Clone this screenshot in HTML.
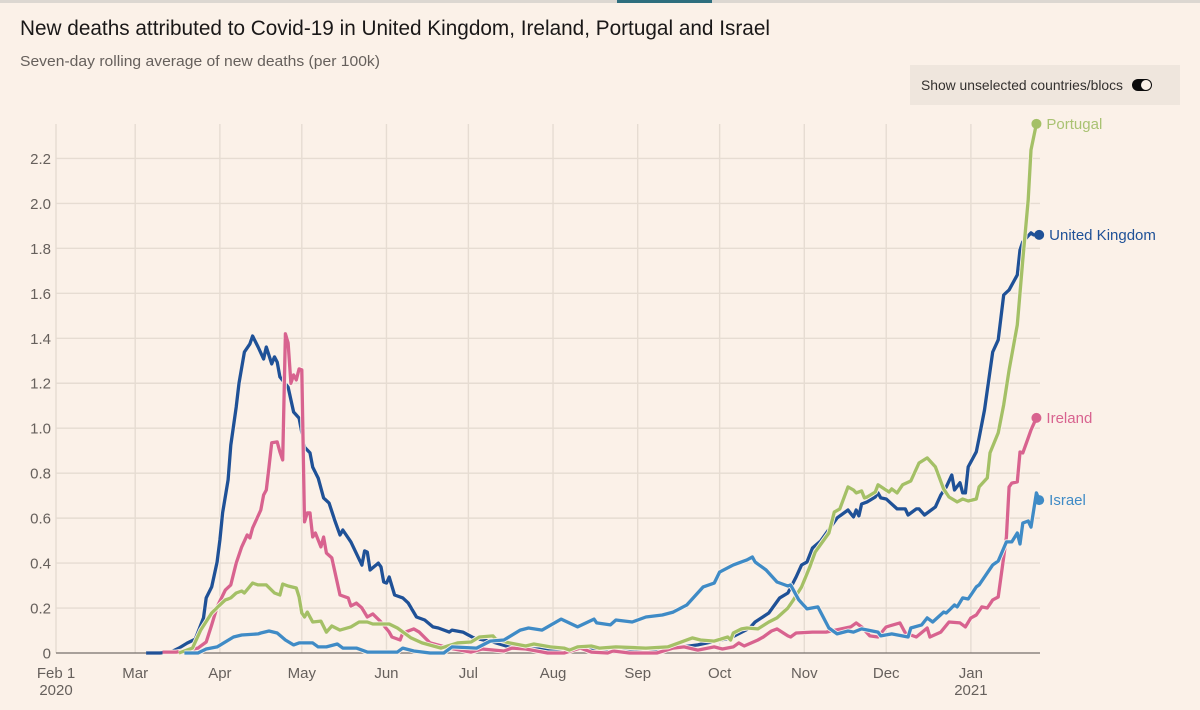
<!DOCTYPE html>
<html lang="en">
<head>
<meta charset="utf-8">
<title>New deaths attributed to Covid-19</title>
<style>
html,body{margin:0;padding:0;background:#fbf1e8;}
body{width:1200px;height:710px;overflow:hidden;position:relative;font-family:"Liberation Sans",sans-serif;}
#chart{position:absolute;left:0;top:0;}
</style>
</head>
<body>
<svg id="chart" width="1200" height="710" viewBox="0 0 1200 710" xmlns="http://www.w3.org/2000/svg">
  <rect x="0" y="0" width="1200" height="3" fill="#dcd7d1"/>
  <rect x="617" y="0" width="95" height="3" fill="#2e6e7e"/>
  <text x="20" y="35" font-size="21" fill="#1a1818" textLength="750" lengthAdjust="spacingAndGlyphs">New deaths attributed to Covid-19 in United Kingdom, Ireland, Portugal and Israel</text>
  <text x="20" y="66" font-size="15" fill="#66605c" textLength="360" lengthAdjust="spacingAndGlyphs">Seven-day rolling average of new deaths (per 100k)</text>
  <g>
    <rect x="910" y="65" width="270" height="40" fill="#efe6dd"/>
    <text x="921" y="90" font-size="14" fill="#33302e" textLength="202" lengthAdjust="spacingAndGlyphs">Show unselected countries/blocs</text>
    <rect x="1132" y="79" width="20" height="12" rx="6" fill="#0b0b0b"/>
    <circle cx="1146" cy="85" r="5" fill="#fbf1e8"/>
  </g>
  <g id="grid"></g>
  <g id="series"></g>
  <g id="labels"></g>
</svg>
<script>
// Days since 1 Feb 2020 and new deaths per 100k.
const ukDays = [33,38,42,45,48,51,54,55,57,59,60,61,63,64,66,67,69,71,72,74,76,77,79,80,81,82,85,87,89,91,93,94,96,98,100,102,104,105,108,112,113,114,115,118,119,120,121,122,124,127,129,132,135,138,140,144,145,149,153,160,166,174,194,211,220,226,235,247,254,256,261,265,268,271,273,275,277,280,286,290,292,293,294,295,297,300,301,302,304,308,311,312,315,316,318,322,324,326,328,329,331,332,333,334,337,338,340,343,345,347,349,352,353,354,357,358,360];
const ukDeaths = [0,0,.004,.022,.044,.062,.156,.245,.294,.405,.503,.623,.77,.925,1.094,1.2,1.339,1.375,1.41,1.361,1.308,1.361,1.286,1.317,1.294,1.228,1.183,1.072,1.045,.916,.89,.827,.778,.69,.667,.592,.525,.547,.494,.391,.454,.449,.369,.4,.383,.316,.311,.338,.258,.245,.222,.16,.147,.116,.111,.093,.102,.093,.067,.049,.027,.018,.018,.013,.009,.022,.036,.067,.111,.138,.178,.245,.267,.338,.392,.405,.467,.498,.601,.636,.605,.636,.61,.663,.672,.694,.712,.69,.685,.641,.641,.614,.641,.641,.614,.65,.703,.739,.792,.725,.757,.712,.712,.828,.895,.957,1.081,1.339,1.393,1.593,1.615,1.682,1.793,1.829,1.869,1.86,1.86];

const irelandDays = [39,44,52,55,57,59,62,64,66,68,70,71,72,75,76,77,78,79,81,82,83,84,85,86,87,88,89,90,91,92,93,94,95,97,98,99,101,104,107,108,110,112,114,116,119,122,123,126,127,131,133,137,144,152,156,164,167,172,180,186,192,196,202,204,210,220,226,230,235,241,244,248,250,252,257,259,262,264,268,269,271,277,282,291,293,295,298,301,303,304,309,311,315,319,320,324,327,331,333,335,337,339,341,343,345,347,348,349,350,352,353,354,356,357,359];
const irelandDeaths = [.004,.004,.022,.049,.125,.205,.28,.303,.4,.472,.525,.512,.556,.636,.703,.725,.828,.935,.939,.895,.859,1.42,1.38,1.2,1.237,1.215,1.264,1.26,.583,.623,.623,.516,.534,.472,.516,.445,.423,.258,.245,.209,.222,.2,.16,.174,.138,.093,.071,.058,.089,.107,.093,.045,.022,.004,.018,.009,.022,.018,0,0,.022,.004,0,.009,0,0,.022,.027,.013,.027,.018,.027,.045,.031,.058,.071,.098,.107,.076,.071,.089,.093,.093,.116,.134,.116,.076,.071,.102,.116,.134,.089,.071,.111,.071,.093,.138,.134,.116,.156,.169,.205,.2,.236,.249,.427,.516,.739,.756,.761,.894,.89,.957,.992,1.046];

const portugalDays = [45,50,53,57,60,62,63,64,66,68,69,72,74,77,80,82,83,85,88,89,90,91,92,94,97,99,101,104,108,111,114,116,122,125,130,134,141,147,152,155,160,161,166,172,175,181,186,188,191,196,199,205,216,224,228,233,236,241,246,247,248,251,253,257,261,264,268,270,273,276,278,283,285,287,290,292,293,295,296,297,300,301,305,306,308,310,313,316,319,322,325,327,330,332,334,337,338,341,342,345,347,349,352,354,356,357,359];
const portugalDeaths = [0,.022,.102,.178,.214,.236,.24,.245,.267,.276,.267,.311,.303,.303,.267,.258,.307,.298,.289,.249,.178,.16,.182,.138,.142,.093,.12,.102,.116,.138,.138,.129,.129,.111,.067,.045,.022,.045,.049,.071,.076,.062,.045,.031,.04,.027,.022,.013,.027,.031,.022,.027,.022,.027,.045,.067,.058,.053,.071,.058,.089,.107,.111,.107,.138,.156,.2,.236,.294,.383,.449,.534,.627,.641,.739,.725,.712,.721,.69,.694,.716,.748,.716,.73,.712,.748,.765,.845,.868,.828,.73,.694,.672,.685,.676,.685,.739,.779,.89,.979,1.104,1.259,1.46,1.749,2.016,2.238,2.354];

const israelDays = [47,52,55,59,65,68,74,75,78,81,84,87,89,94,96,99,103,105,110,114,119,125,127,131,137,142,145,154,159,164,170,173,178,185,191,197,198,203,205,211,216,222,226,231,237,241,243,248,253,255,256,260,264,268,269,272,275,279,283,286,290,292,295,301,302,306,312,313,317,319,321,325,326,329,330,332,334,337,338,343,345,348,350,352,353,354,356,357,359,360];
const israelDeaths = [0,0,.018,.027,.071,.08,.085,.089,.098,.089,.058,.036,.045,.045,.027,.027,.04,.022,.022,.004,.004,.004,.022,.009,0,0,.027,.022,.053,.058,.102,.111,.102,.151,.116,.151,.134,.125,.147,.138,.16,.169,.182,.214,.294,.311,.36,.392,.414,.427,.405,.369,.316,.298,.303,.236,.196,.205,.111,.085,.098,.093,.107,.093,.076,.085,.071,.111,.125,.156,.138,.182,.178,.214,.205,.245,.24,.294,.303,.392,.409,.494,.494,.534,.485,.578,.587,.56,.712,.68];

const seriesNames = ["United Kingdom","Ireland","Israel","Portugal"];
const yTickValues = [0,.2,.4,.6,.8,1,1.2,1.4,1.6,1.8,2,2.2];
const yTickLabels = ["0","0.2","0.4","0.6","0.8","1.0","1.2","1.4","1.6","1.8","2.0","2.2"];
const xTickDays = [0,29,60,90,121,151,182,213,243,274,304,335];
const xTickLabels = ["Feb 1","Mar","Apr","May","Jun","Jul","Aug","Sep","Oct","Nov","Dec","Jan"];
const xTickYears = ["2020","","","","","","","","","","","2021"];

const NS = "http://www.w3.org/2000/svg";
const BG = "#fbf1e8";
const xScale = d => 56 + d * 2.731;
const yScale = v => 653 - v * 224.8;
const gridG = document.getElementById("grid");
const seriesG = document.getElementById("series");
const labelsG = document.getElementById("labels");

function make(parent, tag, attrs, text) {
  const el = document.createElementNS(NS, tag);
  for (const k in attrs) el.setAttribute(k, attrs[k]);
  if (text !== undefined) el.textContent = text;
  parent.appendChild(el);
  return el;
}

yTickValues.forEach((v, i) => {
  if (v !== 0) {
    const line = make(gridG, "line", {x1: 56, x2: 1040, y1: yScale(v), y2: yScale(v), stroke: "#e6dcd2", "stroke-width": 1.4});
    
    
  }
  const t = make(gridG, "text", {x: 51, y: yScale(v) + 5.5, "text-anchor": "end", "font-size": 15, fill: "#66605c"}, yTickLabels[i]);
  
  
});

xTickDays.forEach((d, i) => {
  const line = make(gridG, "line", {x1: xScale(d), x2: xScale(d), y1: 124, y2: 653, stroke: "#e6dcd2", "stroke-width": 1.4});
  
  
  const t = make(gridG, "text", {x: xScale(d), y: 678, "text-anchor": "middle", "font-size": 15, fill: "#66605c"}, xTickLabels[i]);
  
  
  if (xTickYears[i]) {
    const y = make(gridG, "text", {x: xScale(d), y: 695, "text-anchor": "middle", "font-size": 15, fill: "#66605c"}, xTickYears[i]);
    
    
  }
});

const axis = make(gridG, "line", {x1: 56, x2: 1040, y1: 653, y2: 653, stroke: "#77706b", "stroke-width": 1.3});



function drawSeries(name, days, vals, color, textColor) {
  const d = days.map((day, i) => (i ? "L" : "M") + xScale(day).toFixed(1) + " " + yScale(vals[i]).toFixed(1)).join("");
  const halo = make(seriesG, "path", {d: d, fill: "none", stroke: BG, "stroke-width": 5, "stroke-linejoin": "round"});
  
  
  const line = make(seriesG, "path", {d: d, fill: "none", stroke: color, "stroke-width": 3.3, "stroke-linejoin": "round"});
  
  
  const lastX = xScale(days[days.length - 1]);
  const lastY = yScale(vals[vals.length - 1]);
  const dot = make(labelsG, "circle", {cx: lastX, cy: lastY, r: 5, fill: color});
  
  
  const label = make(labelsG, "text", {x: lastX + 10, y: lastY + 5, "font-size": 15, fill: textColor}, name);
  
  
}

drawSeries(seriesNames[0], ukDays, ukDeaths, "#1f5197", "#1f5197");
drawSeries(seriesNames[1], irelandDays, irelandDeaths, "#d8638f", "#d8638f");
drawSeries(seriesNames[3], portugalDays, portugalDeaths, "#a4c066", "#a9c272");
drawSeries(seriesNames[2], israelDays, israelDeaths, "#3f8bc6", "#3f8bc6");
</script>
</body>
</html>
